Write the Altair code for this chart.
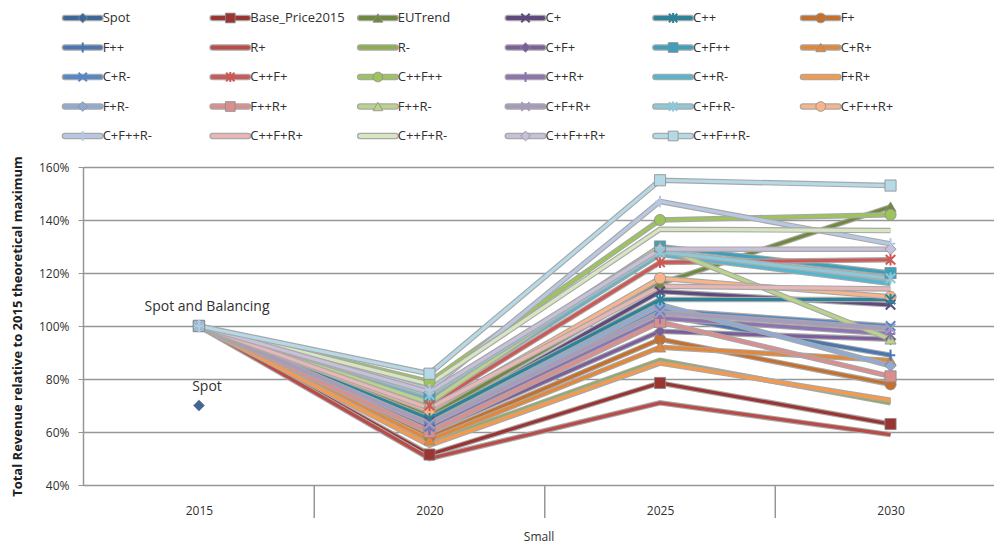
import altair as alt
import pandas as pd

years = ["2015", "2020", "2025", "2030"]
names = ["Spot", "Base_Price2015", "EUTrend", "C+", "C++", "F+",
         "F++", "R+", "R-", "C+F+", "C+F++", "C+R+",
         "C+R-", "C++F+", "C++F++", "C++R+", "C++R-", "F+R+",
         "F+R-", "F++R+", "F++R-", "C+F+R+", "C+F+R-", "C+F++R+",
         "C+F++R-", "C++F+R+", "C++F+R-", "C++F++R+", "C++F++R-"]

# values in percent of the 2015 theoretical maximum (None = no value)
v2015 = [70, 100, 100, 100, 100, 100, 100, 100, 100, 100, 100, 100, 100, 100, 100,
         100, 100, 100, 100, 100, 100, 100, 100, 100, 100, 100, 100, 100, 100]
v2020 = [None, 51.5, 66, 64, 65, 58, 61, 50, 56, 60, 73, 57, 62, 70, 79,
         62, 72, 55, 63, 60, 71, 63, 74, 68, 76, 69, 78, 75, 82]
v2025 = [None, 78.5, 116, 113, 110, 95, 104, 71, 87, 98, 130, 92, 106, 124, 140,
         103, 127, 86, 108, 101.5, 130, 105, 128, 118, 147, 115, 136.5, 129, 155]
v2030 = [None, 63, 145, 108, 110, 78, 89, 59, 71, 95, 120, 87, 100, 125, 142,
         97, 116, 72, 85, 81, 95, 99, 118, 111, 131, 114, 136, 129, 153]

markers = ["diamond", "square", "triangle", "x", "star", "circle",
           "plus", "none", "none", "diamond", "square", "triangle",
           "x", "star", "circle", "plus", "none", "none",
           "diamond", "square", "triangle", "x", "star", "circle",
           "plus", "none", "none", "diamond", "square"]

colors = ["#3D6699", "#9A3533", "#71893F", "#5E4A7D", "#2F8399", "#C4712F",
          "#4A77AF", "#B94B48", "#8DAE52", "#7A5F9B", "#3EA0BA", "#E3883B",
          "#5688C6", "#CC5956", "#9DC45C", "#8E74B0", "#55B6D0", "#F59A4D",
          "#8FAAD3", "#D98F8D", "#B9D38A", "#A79BBC", "#8EC7D7", "#F8B58B",
          "#B8C8E3", "#E6B7B6", "#D7E6C1", "#C8C0D9", "#B5D9E7"]

y_ticks = [0.4, 0.6, 0.8, 1.0, 1.2, 1.4, 1.6]
annot_text = ["Spot and Balancing", "Spot"]
annot_value = [1.0, 0.7]
annot_year = ["2015", "2015"]
separator_years = ["2020", "2025", "2030"]

shape_path = {
    "diamond": "diamond",
    "square": "square",
    "triangle": "triangle-up",
    "circle": "circle",
    "x": "M-1,-1L1,1M-1,1L1,-1",
    "star": "M-1,-1L1,1M-1,1L1,-1M0,-1.2L0,1.2",
    "plus": "M-1,0L1,0M0,-1.2L0,1.2",
}
filled_types = {"diamond", "square", "triangle", "circle"}
stroke_types = {"x", "star", "plus"}

OUTLINE = "#a8a8a8"
GRID = "#969696"
TXT = "#303030"
FONT = "Open Sans"

# ---- main data ----
rows = []
for i, n in enumerate(names):
    for yr, arr in zip(years, [v2015, v2020, v2025, v2030]):
        v = arr[i]
        if v is None:
            continue
        rows.append(dict(series=n, idx=i, year=yr, value=v / 100.0,
                         c=colors[i], mk=markers[i], shp=shape_path.get(markers[i], "circle")))
df = pd.DataFrame(rows)

line_rows = []
for i, n in enumerate(names):
    sub = df[df.series == n]
    if len(sub) < 2:
        continue
    for kind, col, w in [("a", OUTLINE, 5.5), ("b", colors[i], 3.2)]:
        for _, r in sub.iterrows():
            line_rows.append(dict(key=f"{i:02d}{kind}", year=r.year, value=r.value, c=col, w=w))
ldf = pd.DataFrame(line_rows)

xscale = alt.Scale(type="point", domain=years, padding=0.476, align=0.5285)
xaxis = alt.Axis(title="Small", domain=False, ticks=False, grid=False, labelAngle=0,
                 labelPadding=20, labelFontSize=12, labelColor=TXT, labelFont=FONT,
                 titlePadding=15, titleFontSize=12, titleFontWeight="normal",
                 titleColor=TXT, titleFont=FONT)
yscale = alt.Scale(domain=[0.4, 1.6], zero=False, nice=False)
yaxis = alt.Axis(values=y_ticks, format=".0%", grid=True, gridColor=GRID, gridWidth=1.5,
                 domainColor=GRID, domainWidth=1.5, tickColor=GRID, tickSize=5,
                 labelPadding=9, labelFontSize=12, labelColor=TXT, labelFont=FONT,
                 title="Total Revenue relative to 2015 theoretical maximum",
                 titleFontSize=13, titleFontWeight="bold", titleColor="#202020",
                 titleFont=FONT, titlePadding=14)

X = alt.X("year:O", scale=xscale, axis=xaxis)
Y = alt.Y("value:Q", scale=yscale, axis=yaxis)

lines = alt.Chart(ldf).mark_line(strokeJoin="miter").encode(
    x=X, y=Y,
    detail="key:N",
    stroke=alt.Stroke("c:N", scale=None),
    strokeWidth=alt.StrokeWidth("w:Q", scale=None),
)

pts_filled = alt.Chart(df[df.mk.isin(filled_types)]).mark_point(
    filled=True, size=125, stroke="#8c8c8c", strokeWidth=0.8, opacity=1
).encode(
    x=X, y=Y,
    fill=alt.Fill("c:N", scale=None),
    shape=alt.Shape("shp:N", scale=None),
)

pts_stroke = alt.Chart(df[df.mk.isin(stroke_types)]).mark_point(
    filled=False, size=90, strokeWidth=2, opacity=1
).encode(
    x=X, y=Y,
    stroke=alt.Stroke("c:N", scale=None),
    shape=alt.Shape("shp:N", scale=None),
)

# category separators of the Excel axis (half a category left of each label)
sep_df = pd.DataFrame(dict(year=separator_years))
separators = alt.Chart(sep_df).mark_rule(color=GRID, strokeWidth=1.5, xOffset=-115.25).encode(
    x=X, y=alt.value(318), y2=alt.value(351),
)

ann_df = pd.DataFrame(dict(label=annot_text, value=annot_value, year=annot_year))
annots = alt.Chart(ann_df).mark_text(
    font=FONT, fontSize=14, color=TXT, dy=-19, dx=8, align="center"
).encode(x=X, y=Y, text="label:N")

main = alt.layer(separators, lines, pts_filled, pts_stroke, annots)

# ---- legend (6 columns, Excel style) ----
leg = pd.DataFrame(dict(series=names, c=colors, mk=markers))
leg["col"] = [i % 6 for i in range(len(names))]
leg["row"] = [i // 6 for i in range(len(names))]
leg["x1"] = leg["col"] + 0.24
leg["xm"] = leg["col"] + 0.12
leg["xt"] = leg["col"] + 0.255
leg["shp"] = [shape_path.get(m, "circle") for m in markers]

lx = alt.Scale(domain=[0, 5], range=[-18, 720])
ly = alt.Scale(domain=[0, 4], range=[-149, -31])
LY = alt.Y("row:Q", scale=ly, axis=None)

leg_out = alt.Chart(leg).mark_rule(strokeWidth=6.5, color=OUTLINE, strokeCap="round").encode(
    x=alt.X("col:Q", scale=lx, axis=None), x2="x1:Q", y=LY)
leg_line = alt.Chart(leg).mark_rule(strokeWidth=4, strokeCap="round").encode(
    x=alt.X("col:Q", scale=lx, axis=None), x2="x1:Q", y=LY,
    stroke=alt.Stroke("c:N", scale=None))
leg_pf = alt.Chart(leg[leg.mk.isin(filled_types)]).mark_point(
    filled=True, size=95, stroke="#8c8c8c", strokeWidth=0.8, opacity=1).encode(
    x=alt.X("xm:Q", scale=lx, axis=None), y=LY,
    fill=alt.Fill("c:N", scale=None), shape=alt.Shape("shp:N", scale=None))
leg_ps = alt.Chart(leg[leg.mk.isin(stroke_types)]).mark_point(
    filled=False, size=70, strokeWidth=2, opacity=1).encode(
    x=alt.X("xm:Q", scale=lx, axis=None), y=LY,
    stroke=alt.Stroke("c:N", scale=None), shape=alt.Shape("shp:N", scale=None))
leg_txt = alt.Chart(leg).mark_text(
    font=FONT, fontSize=13, color=TXT, align="left", baseline="middle").encode(
    x=alt.X("xt:Q", scale=lx, axis=None), y=LY, text="series:N")

legend = alt.layer(leg_out, leg_line, leg_pf, leg_ps, leg_txt)

chart = alt.layer(main, legend).resolve_scale(
    x="independent", y="independent"
).properties(
    width=911, height=318, padding={"top": 0, "left": 3, "right": 0, "bottom": 3}
).configure_view(stroke=None).configure(background="white")

chart.save("out.html", embed_options={"renderer": "svg", "actions": False})
